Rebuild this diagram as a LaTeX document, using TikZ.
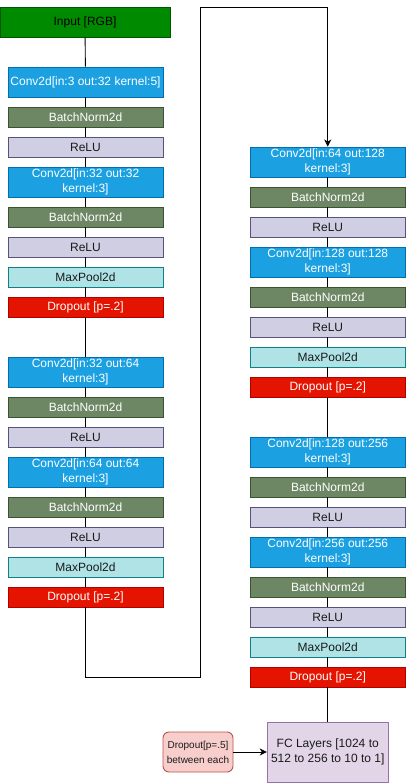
\documentclass[tikz,border=0pt]{standalone}
\usepackage{fontspec}
\setmainfont{Liberation Sans}
\usetikzlibrary{arrows.meta}
\definecolor{convF}{HTML}{1BA1E2}\definecolor{convD}{HTML}{006EAF}
\definecolor{bnF}{HTML}{6D8764}\definecolor{bnD}{HTML}{3A5431}
\definecolor{reluF}{HTML}{D0CEE2}\definecolor{reluD}{HTML}{56517E}
\definecolor{mpF}{HTML}{B0E3E6}\definecolor{mpD}{HTML}{0E8088}
\definecolor{doF}{HTML}{E51400}\definecolor{doD}{HTML}{B20000}
\definecolor{inF}{HTML}{008A00}\definecolor{inD}{HTML}{005700}
\definecolor{fcF}{HTML}{E1D5E7}\definecolor{fcD}{HTML}{9673A6}
\definecolor{rdF}{HTML}{F8CECC}\definecolor{rdD}{HTML}{B85450}
\definecolor{txt}{HTML}{1A1A1A}
\begin{document}
\begin{tikzpicture}[x=1pt,y=-1pt,
  box/.style={draw, line width=0.9pt, minimum width=155pt, inner sep=0pt, align=center,
    font=\fontsize{12}{15}\selectfont},
  conv/.style={box, fill=convF, draw=convD, text=white, minimum height=30pt},
  bn/.style={box, fill=bnF, draw=bnD, text=white, minimum height=20pt},
  relu/.style={box, fill=reluF, draw=reluD, text=txt, minimum height=20pt},
  mp/.style={box, fill=mpF, draw=mpD, text=txt, minimum height=20pt},
  drop/.style={box, fill=doF, draw=doD, text=white, minimum height=20pt},
  link/.style={draw=black, line width=0.9pt},
  arr/.style={link, -{Stealth[length=7pt,width=7pt,inset=2pt]}}
]
\useasboundingbox (0,0) rectangle (406,783);
% Left column
\node[box, fill=inF, draw=inD, text=black, minimum width=170pt, minimum height=30pt] (in) at (85,22) {Input [RGB]};
\node[conv] (c1) at (85.5,82) {Conv2d[in:3 out:32 kernel:5]};
\node[bn] (b1) at (85.5,117) {BatchNorm2d};
\node[relu] (r1) at (85.5,147) {ReLU};
\node[conv] (c2) at (85.5,182) {Conv2d[in:32 out:32\\kernel:3]};
\node[bn] (b2) at (85.5,217) {BatchNorm2d};
\node[relu] (r2) at (85.5,247) {ReLU};
\node[mp] (m1) at (85.5,277) {MaxPool2d};
\node[drop] (d1) at (85.5,307) {Dropout [p=.2]};
\node[conv] (c3) at (85.5,372) {Conv2d[in:32 out:64\\kernel:3]};
\node[bn] (b3) at (85.5,407) {BatchNorm2d};
\node[relu] (r3) at (85.5,437) {ReLU};
\node[conv] (c4) at (85.5,472) {Conv2d[in:64 out:64\\kernel:3]};
\node[bn] (b4) at (85.5,507) {BatchNorm2d};
\node[relu] (r4) at (85.5,537) {ReLU};
\node[mp] (m2) at (85.5,567) {MaxPool2d};
\node[drop] (d2) at (85.5,597) {Dropout [p=.2]};
% Right column
\node[conv] (c5) at (327.75,162) {Conv2d[in:64 out:128\\kernel:3]};
\node[bn] (b5) at (327.75,197) {BatchNorm2d};
\node[relu] (r5) at (327.75,227) {ReLU};
\node[conv] (c6) at (327.75,262) {Conv2d[in:128 out:128\\kernel:3]};
\node[bn] (b6) at (327.75,297) {BatchNorm2d};
\node[relu] (r6) at (327.75,327) {ReLU};
\node[mp] (m3) at (327.75,357) {MaxPool2d};
\node[drop] (d3) at (327.75,387) {Dropout [p=.2]};
\node[conv] (c7) at (327.75,452) {Conv2d[in:128 out:256\\kernel:3]};
\node[bn] (b7) at (327.75,487) {BatchNorm2d};
\node[relu] (r7) at (327.75,517) {ReLU};
\node[conv] (c8) at (327.75,552) {Conv2d[in:256 out:256\\kernel:3]};
\node[bn] (b8) at (327.75,587) {BatchNorm2d};
\node[relu] (r8) at (327.75,617) {ReLU};
\node[mp] (m4) at (327.75,647) {MaxPool2d};
\node[drop] (d4) at (327.75,677) {Dropout [p=.2]};
\node[box, fill=fcF, draw=fcD, text=txt, minimum width=121pt, minimum height=60pt,
  font=\fontsize{12}{15}\selectfont] (fc) at (327.75,752) {FC Layers [1024 to\\512 to 256 to 10 to 1]};
\node[box, rounded corners=6pt, fill=rdF, draw=rdD, text=txt, minimum width=70pt, minimum height=40pt,
  font=\fontsize{10}{15}\selectfont] (rd) at (198,752) {Dropout[p=.5]\\between each};
% connectors
\coordinate (k1) at (85.5,677);
\coordinate (k2) at (200,677);
\coordinate (k3) at (200,7);
\coordinate (k4) at (327.75,7);
\foreach \a/\b in {in/c1,c1/b1,b1/r1,r1/c2,c2/b2,b2/r2,r2/m1,m1/d1,d1/c3,c3/b3,b3/r3,r3/c4,c4/b4,b4/r4,r4/m2,m2/d2,
  c5/b5,b5/r5,r5/c6,c6/b6,b6/r6,r6/m3,m3/d3,d3/c7,c7/b7,b7/r7,r7/c8,c8/b8,b8/r8,r8/m4,m4/d4,d4/fc}
  \draw[link] (\a) -- (\b);
\draw[arr] (d2.south) -- (k1) -- (k2) -- (k3) -- (k4) -- (c5.north);
\draw[arr] (rd) -- (fc);
\end{tikzpicture}
\end{document}
